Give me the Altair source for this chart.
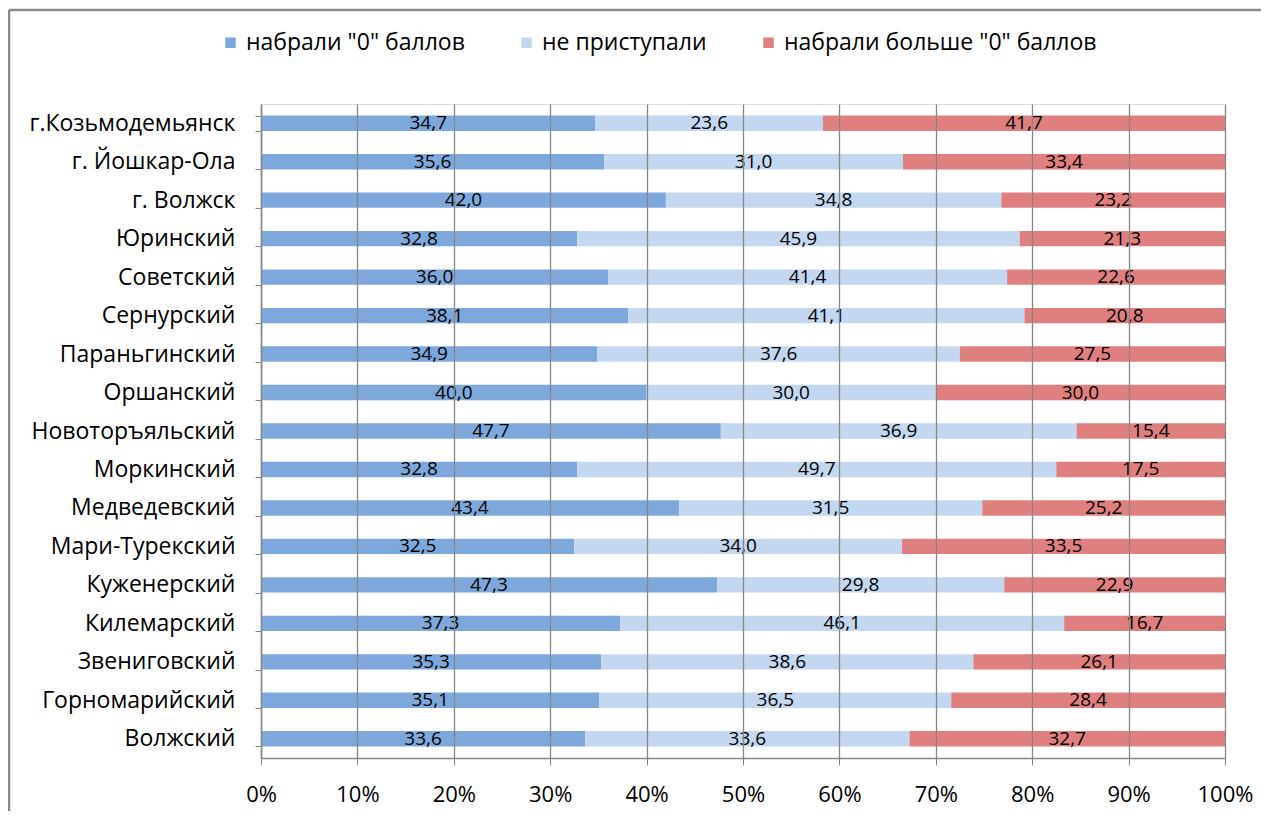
import altair as alt
import pandas as pd

categories = [
    "г.Козьмодемьянск", "г. Йошкар-Ола", "г. Волжск", "Юринский", "Советский",
    "Сернурский", "Параньгинский", "Оршанский", "Новоторъяльский", "Моркинский",
    "Медведевский", "Мари-Турекский", "Куженерский", "Килемарский", "Звениговский",
    "Горномарийский", "Волжский",
]
zero_scores = [34.7, 35.6, 42.0, 32.8, 36.0, 38.1, 34.9, 40.0, 47.7, 32.8, 43.4, 32.5, 47.3, 37.3, 35.3, 35.1, 33.6]
not_started = [23.6, 31.0, 34.8, 45.9, 41.4, 41.1, 37.6, 30.0, 36.9, 49.7, 31.5, 34.0, 29.8, 46.1, 38.6, 36.5, 33.6]
above_zero = [41.7, 33.4, 23.2, 21.3, 22.6, 20.8, 27.5, 30.0, 15.4, 17.5, 25.2, 33.5, 22.9, 16.7, 26.1, 28.4, 32.7]
series = ['набрали "0" баллов', 'не приступали', 'набрали больше "0" баллов']
colors = ["#7EA8DC", "#C4D7F0", "#E07F7F"]
x_ticks = [0, 0.1, 0.2, 0.3, 0.4, 0.5, 0.6, 0.7, 0.8, 0.9, 1.0]

rows = []
for i, c in enumerate(categories):
    for j, (s, vals) in enumerate(zip(series, [zero_scores, not_started, above_zero])):
        rows.append({"cat": c, "series": s, "order": j, "v": vals[i]})
df = pd.DataFrame(rows)

FONT = "Open Sans"
GRAY = "#868686"
W, H = 964, 654

base = alt.Chart(df).transform_stack(
    stack="v", groupby=["cat"], as_=["s0", "s1"],
    sort=[alt.SortField(field="order", order="ascending")], offset="normalize",
).transform_calculate(
    mid="(datum.s0 + datum.s1) / 2",
    lbl="replace(format(datum.v, '.1f'), '.', ',')",
)

y_enc = alt.Y(
    "cat:N", sort=categories, title=None,
    scale=alt.Scale(paddingInner=0.6, paddingOuter=0.3),
    axis=alt.Axis(tickBand="extent", labelFontSize=23, labelFont=FONT, labelColor="black",
                  labelPadding=20, tickSize=6, tickColor=GRAY, domainColor=GRAY,
                  domainWidth=1.5, labelLimit=400),
)

bars = base.mark_bar().encode(
    x=alt.X("s0:Q", title=None, scale=alt.Scale(domain=[0, 1], nice=False),
            axis=alt.Axis(values=x_ticks, format="%", labelFontSize=22, labelFont=FONT,
                          labelColor="black", labelFlush=False, grid=True, gridColor=GRAY,
                          gridWidth=1.3, tickColor=GRAY, domainColor=GRAY, domainWidth=1.5,
                          tickSize=7, labelPadding=19, zindex=1)),
    x2="s1:Q",
    y=y_enc,
    color=alt.Color("series:N", scale=alt.Scale(domain=series, range=colors),
                    legend=alt.Legend(title=None, orient="none", legendX=-42, legendY=-73,
                                      direction="horizontal", symbolType="square",
                                      symbolSize=110, symbolStrokeWidth=0,
                                      labelFontSize=23, labelFont=FONT, labelColor="black",
                                      labelLimit=500, columnPadding=50, labelOffset=4)),
)

text = base.mark_text(fontSize=19, font=FONT, color="black").encode(
    x=alt.X("mid:Q"),
    y=alt.Y("cat:N", sort=categories),
    text="lbl:N",
)

frame_df = pd.DataFrame({"a": [0]})
frame_left = alt.Chart(frame_df).mark_rule(color="#888888", strokeWidth=2.5, clip=False).encode(
    x=alt.value(-252), y=alt.value(-94), y2=alt.value(H + 80)
)
frame_top = alt.Chart(frame_df).mark_rule(color="#888888", strokeWidth=2.5, clip=False).encode(
    x=alt.value(-252), x2=alt.value(W + 36), y=alt.value(-94)
)

chart = alt.layer(bars, text, frame_left, frame_top).properties(
    width=W, height=H,
    autosize=alt.AutoSizeParams(type="none"),
    padding={"left": 253, "top": 96, "right": 38, "bottom": 53},
).configure_view(stroke=None).configure(background="white")

chart.save("out.html", embed_options={"renderer": "svg", "actions": False})
